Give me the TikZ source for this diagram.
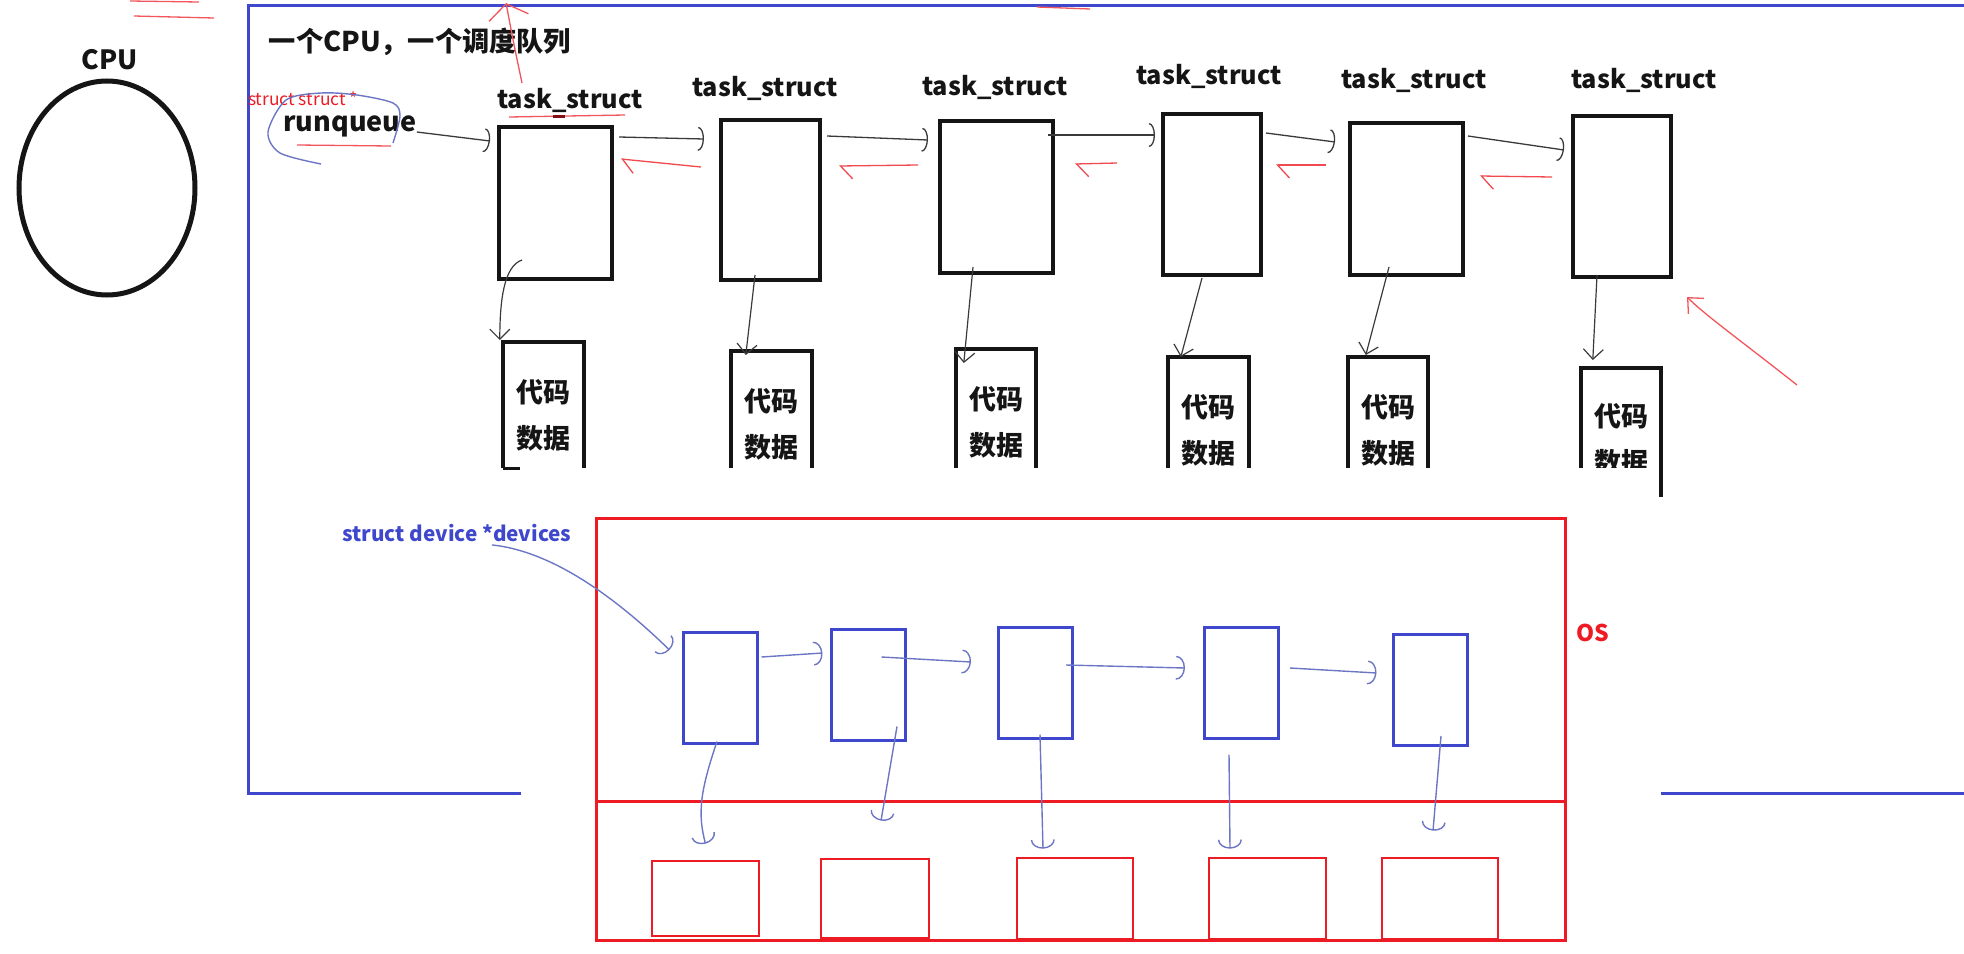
\documentclass[tikz,border=0pt]{standalone}
\usepackage{fontspec}
\setmainfont{Noto Sans CJK SC}
\usepackage{tikz}
\usetikzlibrary{arrows.meta,shapes.geometric}
\definecolor{cBlue}{HTML}{3F48CC}
\definecolor{cRed} {HTML}{ED1C24}
\definecolor{cInk} {HTML}{151515}
\definecolor{cPen} {HTML}{6C76C4}
\definecolor{cLine}{HTML}{3A3A3A}
\tikzset{
  tsk/.style    ={draw=cInk,line width=4pt,inner sep=0pt},
  code/.style   ={inner sep=0pt,minimum width=80pt,anchor=north},
  codetxt/.style={font=\fontsize{27}{46}\selectfont\bfseries,align=center,
                  text=cInk,inner sep=0pt},
  dev/.style    ={draw=cBlue,line width=3pt,minimum width=74pt,
                  minimum height=111pt,inner sep=0pt},
  hw/.style     ={draw=cRed,line width=2.6pt,inner sep=0pt},
  ttl/.style    ={font=\fontsize{25.3}{28}\selectfont\bfseries,text=cInk,inner sep=0pt},
  nxt/.style    ={-{Arc Barb[length=6pt,width=24pt]},draw=cLine,line width=1.3pt},
  prv/.style    ={-{Straight Barb[left,length=12pt,width=26pt]},draw=cRed!80,
                  line width=1.3pt},
  own/.style    ={-{Straight Barb[length=10pt,width=20pt]},draw=cLine,line width=1.2pt},
  pen/.style    ={draw=cPen,line width=1.4pt},
  penarr/.style ={pen,-{Arc Barb[length=9pt,width=24pt]}},
  redpen/.style ={draw=cRed!75,line width=1.3pt},
}

\begin{document}
\begin{tikzpicture}[x=1pt,y=-1pt]
\useasboundingbox (0,0) rectangle (1964,953);

% CPU
\node[ttl,font=\fontsize{26.5}{29}\selectfont\bfseries] (cpulbl) at (110,60) {CPU};
\node[draw=cInk,line width=5pt,ellipse,minimum width=176pt,minimum height=214pt,
      inner sep=0pt] (cpu) at (107,188) {};

% scheduler frame
\draw[cBlue,line width=3pt] (1964,5) -| (248,793) -- (521,793);
\draw[cBlue,line width=3pt] (1661,793) -- (1964,793);
\node[ttl,font=\fontsize{27.2}{30}\selectfont\bfseries] (title) at (420,42)
  {一个CPU，一个调度队列};

\node[font=\fontsize{17.4}{19}\selectfont,text=cRed,inner sep=0pt] (rqtype) at (303,99)
  {struct struct *};
\node[ttl,font=\fontsize{27}{30}\selectfont\bfseries] (rq) at (350,126) {runqueue};
\draw[pen] plot[smooth] coordinates {(321,164) (280,153) (268,132) (286,100)
  (321,93) (357,95) (393,103) (400,116) (393,143)};

% run queue
\foreach \i/\x/\y/\w/\h/\lx/\ly in {1/555.5/203/113/152/570/100,
    2/770.5/200/99/160/765/88, 3/996.5/197/113/152/995/87,
    4/1212/194.5/98/161/1209/76, 5/1406.5/199/113/152/1414/80,
    6/1622/196.5/98/161/1644/80}{
  \node[tsk,minimum width=\w pt,minimum height=\h pt] (t\i) at (\x,\y) {};
  \node[ttl] (l\i) at (\lx,\ly) {task\_struct};
}

\draw[nxt] ([yshift=-6pt]rq.east) -- ([xshift=-7pt,yshift=62pt]t1.west);
\foreach \i/\j/\a/\b/\c/\d in {1/2/5/66/-15/61, 2/3/5/64/-10/57, 3/4/-7/62/-6/59.5,
    4/5/3/61.5/-13/57, 5/6/3/63/-7/46.5}{
  \draw[nxt] ([xshift=\a pt,yshift=\b pt]t\i.east) -- ([xshift=\c pt,yshift=\d pt]t\j.west);
}
\foreach \j/\i/\a/\b/\c/\d in {2/1/-18/33/7/44, 3/2/-20/32/17/34, 4/3/-44/31.5/20/33,
    5/4/-22/34/13/29.5, 6/5/-19/19.5/15/23}{
  \draw[prv] ([xshift=\a pt,yshift=\b pt]t\j.west) -- ([xshift=\c pt,yshift=\d pt]t\i.east);
}

% code and data of each task
\foreach \i/\x/\t in {1/543.5/342, 2/771.5/351, 3/996/349, 4/1208.5/357,
    5/1388/357}{
  \node[code,minimum height={(468-\t)*1pt}] (c\i) at (\x,\t) {};
  \draw[line width=4pt,cInk] (c\i.south west) |- (c\i.north east) -- (c\i.south east);
  \node[codetxt] (ct\i) at ([yshift=-73pt]c\i.north) {代码\\数据};
}
\draw[line width=3pt,cInk] (c1.south west) -- ++(17,0);
\node[code,minimum height=100pt] (c6) at (1621,368) {};
\draw[line width=4pt,cInk] (c6.south west) |- (c6.north east) -- ++(0,129);
\begin{scope}
  \clip (1560,360) rectangle (1700,467);
  \node[codetxt] (ct6) at ([yshift=-71pt]c6.north) {代码\\数据};
\end{scope}

\draw[own] ([xshift=-33.5pt,yshift=21pt]t1.south) .. controls +(-18,6) and +(0,-40) ..
  ([xshift=-3.5pt,yshift=2pt]c1.north west);
\foreach \i/\a/\b/\c/\d in {2/-15.5/7/14.5/-4, 3/-23.5/8/8/-14, 4/-10/-1/12.5/0,
    5/-17.5/10/18/2, 6/-25/4/12/8}{
  \draw[own] ([xshift=\a pt,yshift=\b pt]t\i.south) -- ([xshift=\c pt,yshift=\d pt]c\i.north west);
}

% OS device list
\node[draw=cRed,line width=3pt,minimum width=969pt,minimum height=422pt,
      inner sep=0pt] (os) at (1080.5,729) {};
\draw[cRed,line width=3pt] (os.west |- 0,801) -- (os.east |- 0,801);
\node[font=\fontsize{23}{25}\selectfont\bfseries,text=cRed,inner sep=0pt] (oslbl)
  at (1593,633) {OS};
\node[font=\fontsize{20.7}{23}\selectfont\bfseries,text=cBlue,inner sep=0pt] (devlbl)
  at (457,533) {struct device *devices};

\foreach \i/\x/\y in {1/720/687.5, 2/868/684.5, 3/1035.5/682.5, 4/1241.5/682.5,
    5/1430/690}{
  \node[dev] (d\i) at (\x,\y) {};
}
\foreach \i/\x/\w/\h in {1/705.5/107/75, 2/875/108/79, 3/1075/116/81,
    4/1267.5/117/81, 5/1440/116/81}{
  \node[hw,minimum width=\w pt,minimum height=\h pt] (r\i) at (\x,898.5) {};
}

\draw[penarr] ([xshift=35pt,yshift=-3pt]devlbl.south) .. controls +(68,7) and +(-41,-40) ..
  ([xshift=-12pt,yshift=37.5pt]d1.west);
\foreach \i/\j/\a/\b/\c/\d in {1/2/3/30.5/-7/31.5, 2/3/-25/27.5/-26/20.5,
    3/4/-8/17.5/-18/14.5, 4/5/10/14.5/-15/17}{
  \draw[penarr] ([xshift=\a pt,yshift=\b pt]d\i.east) -- ([xshift=\c pt,yshift=\d pt]d\j.west);
}
\draw[penarr] ([xshift=-3pt,yshift=3pt]d1.south) .. controls +(-17,50) and +(-8,-30) ..
  ([yshift=16pt]r1.north);
\foreach \i/\a/\b/\c/\d in {2/29/15/6/37, 3/4.5/5/-32/8, 4/-12.5/-15/-37.5/8,
    5/11/11/-7/26}{
  \draw[penarr] ([xshift=\a pt,yshift=\b pt]d\i.south) -- ([xshift=\c pt,yshift=\d pt]r\i.north);
}

% red pen marks
\draw[redpen] (509,117) -- (625,115);
\draw[cRed!55!black,line width=3pt] (553,116) -- (565,116);
\draw[redpen] (297,145) -- (391,146);
\draw[redpen,-{Straight Barb[length=14pt,width=40pt]}] (522,83) .. controls (514,45) .. (506,3);
\draw[redpen,-{Straight Barb[length=12pt,width=22pt]}] (1797,385) .. controls (1740,340)
  and (1705,315) .. (1687,297);
\draw[redpen] (130,1) -- (199,2);
\draw[redpen] (134,16) -- (214,18);
\draw[redpen] (1037,7) -- (1090,9);
\end{tikzpicture}
\end{document}
